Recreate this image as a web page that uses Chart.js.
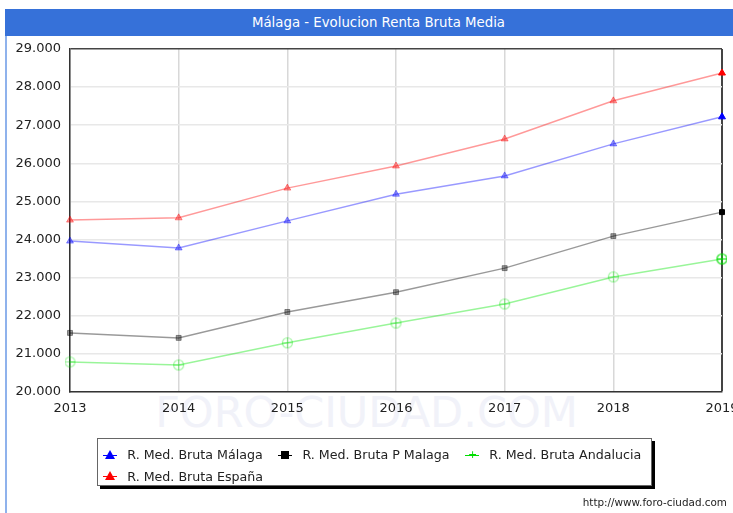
<!DOCTYPE html>
<html>
<head>
<meta charset="utf-8">
<script src="https://cdn.jsdelivr.net/npm/chart.js@4"></script>
<style>
  body { margin: 0; background: #fff; font-family: 'DejaVu Sans', sans-serif; }
  #wrap { position: relative; width: 733px; height: 513px; overflow: hidden; }
  #titulo {
    position: absolute; left: 5px; top: 9px; width: 740px; height: 27px;
    background: #3671d9; color: #fff; font-size: 13.3px; line-height: 27px;
    text-align: center; text-indent: 7px;
  }
  #bordeIzq { position: absolute; left: 5px; top: 36px; width: 2px; height: 477px; background: #8fb2ec; }
  #marca {
    position: absolute; left: 0; width: 733px; top: 387px; text-align: center;
    font-size: 43px; color: #f1f2f9;
  }
  #grafico { position: absolute; left: 0; top: 0; }
  #leyenda {
    position: absolute; left: 97px; top: 438px; width: 555px; height: 48px;
    border: 1px solid #666; background: #fff; box-shadow: 3px 3px 0 #000;
    font-size: 12.65px; color: #222; padding: 5px 0 0 4px; box-sizing: border-box;
  }
  .fila { height: 21.4px; display: flex; align-items: center; white-space: nowrap; }
  .item { display: flex; align-items: center; margin-right: 14.5px; white-space: nowrap; flex: none; }
  .marca { position: relative; width: 16px; height: 12px; margin-right: 9.3px; flex: none; }
  .linea { position: absolute; left: 1px; right: 1px; top: 6px; height: 1px; }
  .tri { position: absolute; left: 3px; top: 1px; width: 0; height: 0;
         border-left: 5px solid transparent; border-right: 5px solid transparent; border-bottom: 9px solid; }
  .cuad { position: absolute; left: 4px; top: 2px; width: 8px; height: 8px; }
  .cruz { position: absolute; left: 4px; top: 1px; width: 8px; height: 10px; font-size: 11px; line-height: 10px; text-align: center; }
  #url { position: absolute; right: 6px; top: 496px; font-size: 10.4px; color: #222; }
</style>
</head>
<body>
<div id="wrap">
  <div id="titulo">Málaga - Evolucion Renta Bruta Media</div>
  <div id="bordeIzq"></div>
  <div id="marca">FORO-CIUDAD.COM</div>
  <canvas id="grafico" width="733" height="513"></canvas>
  <div id="leyenda"></div>
  <div id="url">http://www.foro-ciudad.com</div>
</div>
<script>
// Datos
const anios = ['2013', '2014', '2015', '2016', '2017', '2018', '2019'];
const rentaMalaga = [23960, 23780, 24490, 25190, 25670, 26510, 27220];
const rentaProvincia = [21550, 21420, 22100, 22620, 23250, 24090, 24720];
const rentaAndalucia = [20790, 20710, 21290, 21810, 22310, 23020, 23490];
const rentaEspana = [24510, 24570, 25350, 25930, 26640, 27640, 28370];
const ticksY = [20000, 21000, 22000, 23000, 24000, 25000, 26000, 27000, 28000, 29000];

const series = [
  { label: 'R. Med. Bruta Málaga', data: rentaMalaga, claro: 'rgba(0,0,255,0.4)', fuerte: '#0000ff', tipo: 'tri' },
  { label: 'R. Med. Bruta P Malaga', data: rentaProvincia, claro: 'rgba(0,0,0,0.4)', fuerte: '#000000', tipo: 'cuad' },
  { label: 'R. Med. Bruta Andalucia', data: rentaAndalucia, claro: 'rgba(0,230,0,0.4)', fuerte: '#00dd00', tipo: 'circ' },
  { label: 'R. Med. Bruta España', data: rentaEspana, claro: 'rgba(255,0,0,0.4)', fuerte: '#ff0000', tipo: 'tri' }
];

// circulo con cruz para Andalucia
function circuloCruz(color) {
  const c = document.createElement('canvas');
  c.width = 13; c.height = 13;
  const g = c.getContext('2d');
  g.strokeStyle = color;
  g.lineWidth = 1.1;
  g.beginPath(); g.arc(6.5, 6.5, 5, 0, Math.PI * 2); g.stroke();
  g.beginPath();
  g.moveTo(6.5, 1.5); g.lineTo(6.5, 11.5);
  g.moveTo(1.5, 6.5); g.lineTo(11.5, 6.5);
  g.stroke();
  return c;
}

const ultimo = anios.length - 1;

const datasets = series.map(s => {
  const ds = {
    label: s.label,
    data: s.data,
    borderColor: s.claro,
    borderWidth: 1.5,
    tension: 0,
    pointBorderWidth: 1,
    pointBorderColor: ctx => ctx.dataIndex === ultimo ? s.fuerte : s.claro,
    pointBackgroundColor: ctx => ctx.dataIndex === ultimo ? s.fuerte : s.claro
  };
  if (s.tipo === 'tri') { ds.pointStyle = 'triangle'; ds.pointRadius = 4; }
  if (s.tipo === 'cuad') { ds.pointStyle = 'rect'; ds.pointRadius = 3.5; }
  if (s.tipo === 'circ') {
    const claro = circuloCruz(s.claro), fuerte = circuloCruz(s.fuerte);
    ds.pointStyle = ctx => ctx.dataIndex === ultimo ? fuerte : claro;
  }
  return ds;
});

Chart.defaults.font.family = "'DejaVu Sans', sans-serif";
Chart.defaults.font.size = 13;
Chart.defaults.color = '#222';

new Chart(document.getElementById('grafico'), {
  type: 'line',
  data: { labels: anios, datasets: datasets },
  options: {
    responsive: false,
    animation: false,
    layout: { padding: { top: 49, left: 0, right: 11, bottom: 87 } },
    plugins: { legend: { display: false }, tooltip: { enabled: false } },
    scales: {
      x: {
        grid: {
          drawTicks: false,
          color: ctx => ctx.index === ultimo ? '#444' : '#d8d8d8',
          lineWidth: ctx => ctx.index === ultimo ? 2 : 1.5
        },
        border: { color: '#333', width: 1.5 },
        ticks: { padding: 9, maxRotation: 0, autoSkip: false },
        afterFit: scale => { scale.height = 34; scale.paddingLeft = 0; scale.paddingRight = 0; }
      },
      y: {
        min: 20000,
        max: 29000,
        grid: {
          drawTicks: false,
          color: ctx => ctx.index === ticksY.length - 1 ? '#444' : '#e8e8e8',
          lineWidth: 1.5
        },
        border: { color: '#333', width: 1.5 },
        afterBuildTicks: axis => { axis.ticks = ticksY.map(v => ({ value: v })); },
        ticks: { padding: 9, callback: v => (v / 1000).toFixed(3) },
        afterFit: scale => { scale.width = 70; scale.paddingTop = 0; scale.paddingBottom = 0; }
      }
    }
  }
});

// Leyenda
const leyenda = document.getElementById('leyenda');
const filas = [series.slice(0, 3), series.slice(3)];
filas.forEach(grupo => {
  const fila = document.createElement('div');
  fila.className = 'fila';
  grupo.forEach(s => {
    const item = document.createElement('div');
    item.className = 'item';
    const m = document.createElement('span');
    m.className = 'marca';
    const l = document.createElement('span');
    l.className = 'linea';
    l.style.background = s.fuerte;
    m.appendChild(l);
    const p = document.createElement('span');
    if (s.tipo === 'tri') { p.className = 'tri'; p.style.borderBottomColor = s.fuerte; }
    if (s.tipo === 'cuad') { p.className = 'cuad'; p.style.background = s.fuerte; }
    if (s.tipo === 'circ') { p.className = 'cruz'; p.style.color = s.fuerte; p.textContent = '+'; }
    m.appendChild(p);
    const t = document.createElement('span');
    t.textContent = s.label;
    item.appendChild(m);
    item.appendChild(t);
    fila.appendChild(item);
  });
  leyenda.appendChild(fila);
});
</script>
</body>
</html>
